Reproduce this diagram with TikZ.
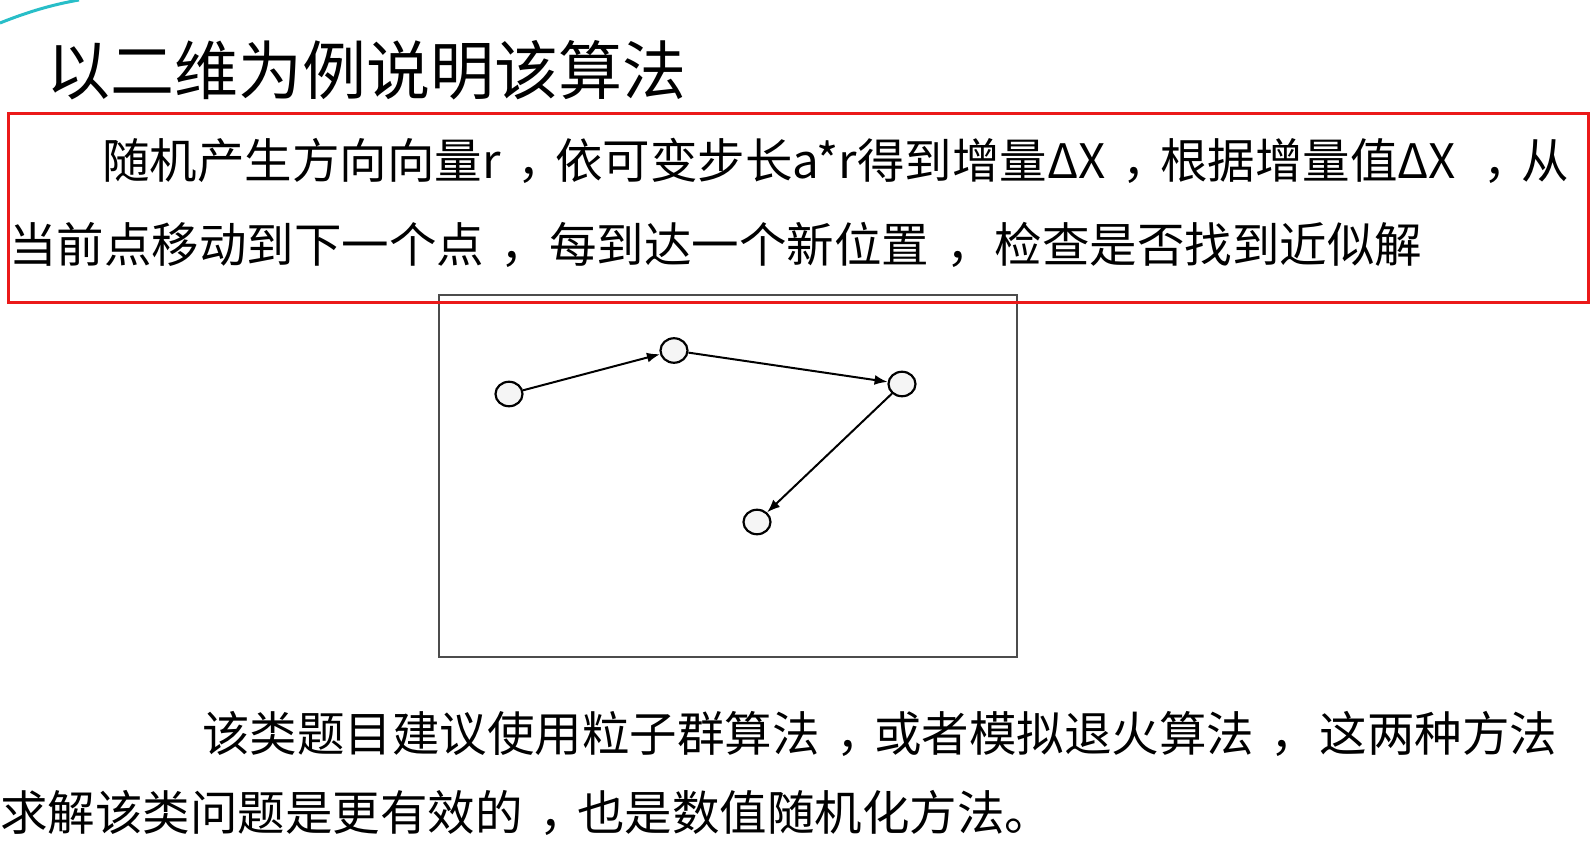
\documentclass[tikz,border=0pt]{standalone}
\usepackage{fontspec}
\setmainfont{Noto Sans CJK SC}
\usetikzlibrary{arrows.meta,shapes.geometric}
\newcommand{\virgola}{\hspace{0.35em}，\hspace{-0.2em}}
\begin{document}
\begin{tikzpicture}[x=1pt, y=-1pt,
    punto/.style={ellipse, draw=black, line width=2.2pt, fill=gray!8, minimum width=27pt, minimum height=24.5pt, inner sep=0pt},
    passo/.style={-{Latex[length=13pt, width=10pt]}, line width=2pt},
    riga/.style={anchor=west, inner sep=0pt, font=\fontsize{47.5}{52}\selectfont}]
    \useasboundingbox[fill=white] (0,0) rectangle (1593,853);
    \draw[line width=3pt, color={rgb,255:red,40;green,190;blue,200}] (0,23) .. controls (25,13) and (50,5) .. (79,0);
    \node[anchor=west, inner sep=0pt, font=\fontsize{64}{70}\selectfont] (titolo) at (46,70) {以二维为例说明该算法};
    % riquadro con i punti
    \draw[draw=gray!60!black, line width=1.2pt] (439,295) rectangle (1017,657);
    \draw[draw={rgb,255:red,235;green,25;blue,25}, line width=3pt] (8,114) rectangle (1588,302);
    \node[riga] (testoA) at (102,160.5) {随机产生方向向量r\virgola 依可变步长a*r得到增量ΔX\virgola 根据增量值ΔX \virgola 从};
    \node[riga] (testoB) at (9,245) {当前点移动到下一个点\virgola{} 每到达一个新位置\virgola{} 检查是否找到近似解};
    \node[punto] (p1) at (509,394) {};
    \node[punto] (p2) at (674,350.5) {};
    \node[punto] (p3) at (902,384) {};
    \node[punto] (p4) at (757,522) {};
    \draw[passo] (p1) -- (p2);
    \draw[passo] (p2) -- (p3);
    \draw[passo] (p3) -- (p4);
    \node[riga] (notaA) at (202,733.5) {该类题目建议使用粒子群算法\virgola 或者模拟退火算法\virgola{} 这两种方法};
    \node[riga] (notaB) at (0,813) {求解该类问题是更有效的\virgola 也是数值随机化方法。};
\end{tikzpicture}
\end{document}
